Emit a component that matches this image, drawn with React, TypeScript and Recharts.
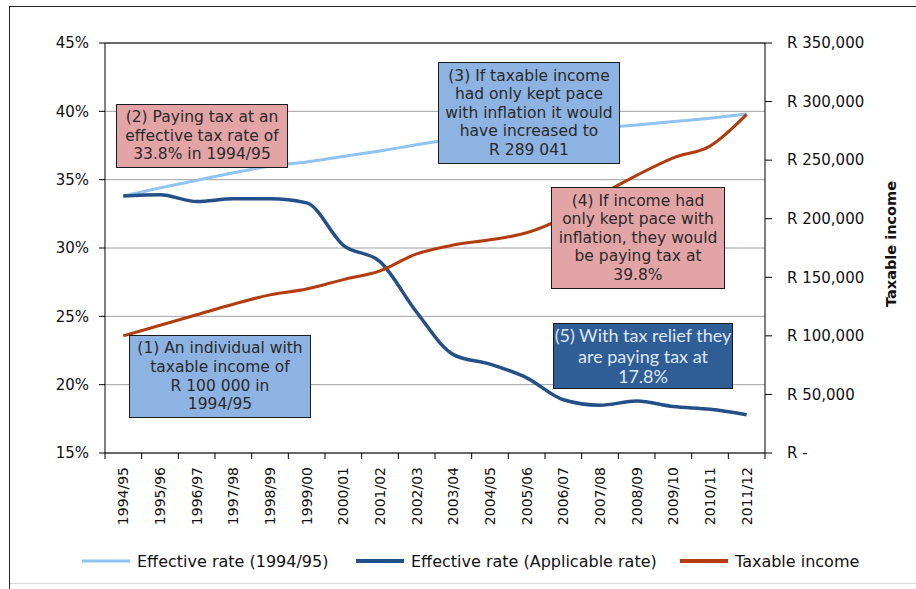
import React from 'react';
import { LineChart, Line, XAxis, YAxis, CartesianGrid, Legend, ReferenceLine } from 'recharts';

const categories = ['1994/95','1995/96','1996/97','1997/98','1998/99','1999/00','2000/01','2001/02','2002/03','2003/04','2004/05','2005/06','2006/07','2007/08','2008/09','2009/10','2010/11','2011/12'];
const effective9495 = [33.8, 34.4, 34.95, 35.5, 36.0, 36.3, 36.7, 37.1, 37.55, 37.95, 38.2, 38.4, 38.6, 38.8, 39.0, 39.25, 39.5, 39.8];
const effectiveApplicable = [33.8, 33.9, 33.4, 33.6, 33.6, 33.3, 30.2, 29.0, 25.3, 22.2, 21.5, 20.5, 18.9, 18.5, 18.8, 18.4, 18.2, 17.8];
const taxableIncome = [100000, 109000, 118000, 127000, 135000, 140000, 148000, 155500, 170000, 177500, 182000, 188000, 201000, 220000, 237000, 252000, 262000, 289041];
const leftTicks = [15, 20, 25, 30, 35, 40, 45];
const rightTicks = [0, 50000, 100000, 150000, 200000, 250000, 300000, 350000];

const rows = categories.map((c, i) => ({
  year: c,
  base: effective9495[i],
  applicable: effectiveApplicable[i],
  income: taxableIncome[i],
}));

const FONT = '"DejaVu Sans", Arial, sans-serif';
const PLOT_W = 660;
const HALF_BAND = PLOT_W / categories.length / 2;

const XTick = (props: any) => {
  const { x, y, payload, index } = props;
  const ty = y + 14;
  return (
    <g>
      <line x1={x - HALF_BAND} x2={x - HALF_BAND} y1={y} y2={y + 6} stroke="#000" strokeWidth={1} />
      {index === categories.length - 1 && (
        <line x1={x + HALF_BAND} x2={x + HALF_BAND} y1={y} y2={y + 6} stroke="#000" strokeWidth={1} />
      )}
      <text
        x={x}
        y={ty}
        transform={`rotate(-90 ${x} ${ty})`}
        textAnchor="end"
        dominantBaseline="central"
        fontSize={14}
        fontFamily={FONT}
        fill="#111"
      >
        {payload.value}
      </text>
    </g>
  );
};

const RightTitle = () => (
  <text
    x={891}
    y={244}
    transform="rotate(-90 891 244)"
    textAnchor="middle"
    dominantBaseline="central"
    fontSize={14.5}
    fontWeight="bold"
    fontFamily={FONT}
    fill="#111"
  >
    Taxable income
  </text>
);

const legendX = [82, 356, 680];
const legendW = [3, 4, 4];

const renderLegend = (props: any) => {
  const payload = props.payload || [];
  return (
    <div style={{ position: 'relative', width: 916, height: 30 }}>
      {payload.map((p: any, i: number) => (
        <div
          key={i}
          style={{ position: 'absolute', left: legendX[i], top: 0, height: 30, display: 'flex', alignItems: 'center', whiteSpace: 'nowrap' }}
        >
          <svg width={48} height={8} style={{ display: 'block' }}>
            <line x1={0} y1={4} x2={48} y2={4} stroke={p.color} strokeWidth={legendW[i]} />
          </svg>
          <span style={{ marginLeft: 7, fontSize: 16, fontFamily: FONT, color: '#111' }}>{p.value}</span>
        </div>
      ))}
    </div>
  );
};

const boxBase: React.CSSProperties = {
  position: 'absolute',
  boxSizing: 'border-box',
  border: '1.5px solid #1b1b1b',
  display: 'flex',
  alignItems: 'center',
  justifyContent: 'center',
  textAlign: 'center',
  fontFamily: FONT,
  fontSize: 15.5,
  lineHeight: '18.6px',
  color: '#2a2a2a',
};

export default function App() {
  return (
    <div style={{ position: 'absolute', left: 0, top: 0, width: 916, height: 589, background: '#fff', overflow: 'hidden' }}>
      <div style={{ position: 'absolute', left: 9, top: 6, width: 916, height: 600, borderTop: '1.5px solid #222', borderLeft: '1.5px solid #222' }} />
      <div style={{ position: 'absolute', left: 10, top: 583, width: 906, height: 0, borderTop: '1px solid #d8d8d8' }} />
      <div style={{ position: 'absolute', left: 0, top: 0 }}>
        <LineChart width={916} height={589} data={rows} margin={{ top: 43, right: 31, bottom: 26, left: 0 }}>
          <CartesianGrid yAxisId="left" vertical={false} stroke="#a0a0a0" strokeWidth={1} />
          <XAxis
            dataKey="year"
            height={80}
            padding={{ left: HALF_BAND, right: HALF_BAND }}
            tick={<XTick />}
            tickLine={false}
            tickSize={0}
            tickMargin={0}
            interval={0}
            axisLine={{ stroke: '#000', strokeWidth: 1 }}
          />
          <YAxis
            yAxisId="left"
            width={105}
            domain={[15, 45]}
            ticks={leftTicks}
            tickFormatter={(v: number) => `${v}%`}
            tick={{ fontSize: 15, fill: '#111', fontFamily: FONT }}
            tickSize={6}
            tickMargin={10}
            axisLine={{ stroke: '#000' }}
            tickLine={{ stroke: '#000' }}
          />
          <YAxis
            yAxisId="right"
            orientation="right"
            width={120}
            domain={[0, 350000]}
            ticks={rightTicks}
            tickFormatter={(v: number) => (v === 0 ? 'R -' : `R ${v.toLocaleString('en-US')}`)}
            tick={{ fontSize: 15, fill: '#111', fontFamily: FONT, textAnchor: 'start' }}
            tickSize={7}
            tickMargin={15}
            axisLine={{ stroke: '#000' }}
            tickLine={{ stroke: '#000' }}
            label={<RightTitle />}
          />
          <ReferenceLine yAxisId="left" y={45} stroke="#000" strokeWidth={1} />
          <Legend content={renderLegend} wrapperStyle={{ left: 0, top: 546, width: 916, height: 30 }} />
          <Line yAxisId="left" type="monotone" dataKey="base" name="Effective rate (1994/95)" stroke="#8ec3f2" strokeWidth={3} dot={false} isAnimationActive={false} />
          <Line yAxisId="left" type="monotone" dataKey="applicable" name="Effective rate (Applicable rate)" stroke="#24508a" strokeWidth={3.5} dot={false} isAnimationActive={false} />
          <Line yAxisId="right" type="monotone" dataKey="income" name="Taxable income" stroke="#b33c0c" strokeWidth={3} dot={false} isAnimationActive={false} />
        </LineChart>
      </div>
      <div style={{ ...boxBase, left: 129, top: 335, width: 182, height: 83, background: '#8db3e2' }}>
        <div>(1) An individual with<br />taxable income of<br />R 100 000 in<br />1994/95</div>
      </div>
      <div style={{ ...boxBase, left: 116, top: 104, width: 172, height: 64, background: '#e3a4a6' }}>
        <div>(2) Paying tax at an<br />effective tax rate of<br />33.8% in 1994/95</div>
      </div>
      <div style={{ ...boxBase, left: 438, top: 62, width: 182, height: 102, background: '#8db3e2' }}>
        <div>(3) If taxable income<br />had only kept pace<br />with inflation it would<br />have increased to<br />R 289 041</div>
      </div>
      <div style={{ ...boxBase, left: 551, top: 187, width: 174, height: 102, background: '#e3a4a6' }}>
        <div>(4) If income had<br />only kept pace with<br />inflation, they would<br />be paying tax at<br />39.8%</div>
      </div>
      <div style={{ ...boxBase, left: 553, top: 323, width: 180, height: 66, background: '#2f5d95', fontFamily: 'Lato, "Open Sans", sans-serif', fontSize: 18, lineHeight: '20.5px', color: '#dde7f3' }}>
        <div>(5) With tax relief they<br />are paying tax at<br />17.8%</div>
      </div>
    </div>
  );
}
